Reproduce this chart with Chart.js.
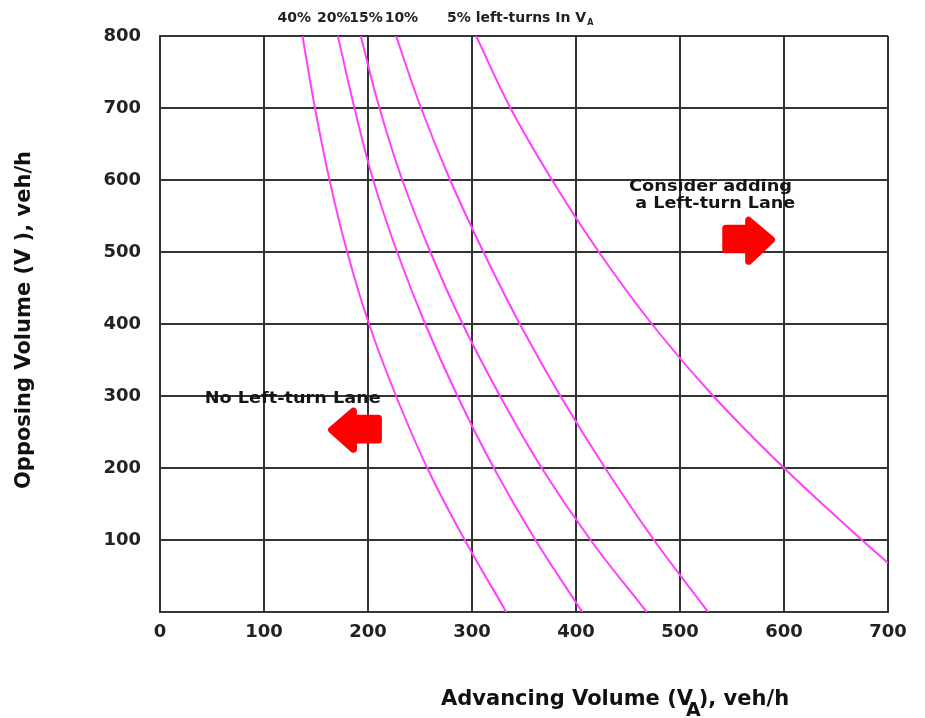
<!DOCTYPE html>
<html><head><meta charset="utf-8">
<script src="https://cdn.jsdelivr.net/npm/chart.js@4.4.0/dist/chart.umd.min.js"></script>
<style>html,body{margin:0;padding:0;background:#fff}#wrap{width:925px;height:718px;position:relative}</style>
</head><body><div id="wrap"><canvas id="c" width="925" height="718"></canvas></div>
<script>
// ---- data ----
const opposing = [800, 700, 600, 500, 400, 300, 200, 100, 0];
const va40 = [137, 149, 163, 180, 201, 227, 257, 293, 333];
const va20 = [171, 187, 205, 228, 255, 286, 321, 361, 406];
const va15 = [193, 211, 233, 260, 291, 327, 367, 414, 468];
const va10 = [227, 251, 279, 311, 346, 385, 428, 475, 527];
const opposing5 = [800, 700, 600, 500, 400, 300, 200, 100, 68];
const va5 = [304, 337, 377, 422, 473, 532, 600, 675, 700];
const seriesLabels = ['40%', '20%', '15%', '10%', '5%'];
const xTicks = [0, 100, 200, 300, 400, 500, 600, 700];
const yTicks = [100, 200, 300, 400, 500, 600, 700, 800];

function pts(xs, ys) { return xs.map((x, i) => ({ x: x, y: ys[i] })).sort((a, b) => a.x - b.x); }

const FONT = '"DejaVu Sans", sans-serif';
const LINE = '#ff40ff';

const seriesData = [pts(va40, opposing), pts(va20, opposing), pts(va15, opposing), pts(va10, opposing), pts(va5, opposing5)];

// annotation anchors in data units
const topLabelX = [113, 151, 182, 216, 276];
const topLabelY = 819;

function stretchText(ctx, text, x, y, size, width) {
  ctx.save();
  ctx.font = 'bold ' + size + 'px ' + FONT;
  const w = ctx.measureText(text).width;
  const sx = width ? width / w : 1;
  ctx.translate(x, y);
  ctx.scale(sx, 1);
  ctx.fillText(text, 0, 0);
  ctx.restore();
  return w * sx;
}

function arrowPath(ctx, pts) {
  ctx.beginPath();
  pts.forEach((p, i) => i ? ctx.lineTo(p[0], p[1]) : ctx.moveTo(p[0], p[1]));
  ctx.closePath();
}

const annot = {
  id: 'annot',
  afterDraw(chart) {
    const ctx = chart.ctx, X = chart.scales.x, Y = chart.scales.y;
    const px = v => X.getPixelForValue(v), py = v => Y.getPixelForValue(v);
    ctx.save();
    ctx.fillStyle = '#222';
    ctx.textBaseline = 'alphabetic';
    ctx.textAlign = 'left';
    // top labels
    for (let i = 0; i < 4; i++) stretchText(ctx, seriesLabels[i], px(topLabelX[i]), py(topLabelY), 14);
    let w = stretchText(ctx, seriesLabels[4] + ' left-turns In V', px(topLabelX[4]), py(topLabelY), 14);
    stretchText(ctx, 'A', px(topLabelX[4]) + w + 1, py(topLabelY) + 3, 8);

    // region notes
    ctx.fillStyle = '#151515';
    stretchText(ctx, 'No Left-turn Lane', px(43), py(290), 15, 176);
    stretchText(ctx, 'Consider adding', px(451), py(585), 15, 163);
    stretchText(ctx, 'a Left-turn Lane', px(457), py(561), 15, 160);

    // arrows
    ctx.fillStyle = '#ff0000';
    ctx.strokeStyle = '#ff0000';
    ctx.lineJoin = 'round';
    ctx.lineWidth = 7;
    arrowPath(ctx, [
      [px(165), py(253)], [px(186), py(279)], [px(186), py(269)], [px(210), py(269)],
      [px(210), py(239)], [px(186), py(239)], [px(186), py(226)]
    ]);
    ctx.fill(); ctx.stroke();
    arrowPath(ctx, [
      [px(588), py(517)], [px(566), py(544)], [px(566), py(533)], [px(544), py(533)],
      [px(544), py(503)], [px(566), py(503)], [px(566), py(487)]
    ]);
    ctx.fill(); ctx.stroke();

    // axis titles
    ctx.fillStyle = '#111';
    let x0 = 441;
    ctx.font = 'bold 21px ' + FONT;
    const p1 = 'Advancing Volume (V';
    ctx.fillText(p1, x0, 705);
    x0 += ctx.measureText(p1).width - 7;
    ctx.font = 'bold 19px ' + FONT;
    ctx.fillText('A', x0, 716);
    x0 += ctx.measureText('A').width - 2;
    ctx.font = 'bold 21px ' + FONT;
    ctx.fillText('), veh/h', x0, 705);

    ctx.translate(30, 320);
    ctx.rotate(-Math.PI / 2);
    ctx.textAlign = 'center';
    ctx.fillText('Opposing Volume (V ), veh/h', 0, 0);
    ctx.restore();
  }
};

const gridCfg = { color: '#333', lineWidth: 2, drawTicks: false };

new Chart(document.getElementById('c'), {
  type: 'scatter',
  data: {
    datasets: seriesData.map((d, i) => ({
      label: seriesLabels[i], data: d, showLine: true, borderColor: LINE, backgroundColor: LINE,
      borderWidth: 2, pointRadius: 0, tension: 0.4
    }))
  },
  options: {
    responsive: false, animation: false, devicePixelRatio: 1,
    layout: { padding: { top: 36, right: 37, left: 0, bottom: 0 } },
    plugins: { legend: { display: false }, tooltip: { enabled: false } },
    scales: {
      x: {
        type: 'linear', min: 0, max: 700,
        afterBuildTicks: s => { s.ticks = xTicks.map(v => ({ value: v })); },
        afterFit: s => { s.height = 106; },
        grid: gridCfg, border: { color: '#333', width: 2 },
        ticks: { padding: 10, color: '#222', font: { family: FONT, size: 18, weight: 'bold' } }
      },
      y: {
        type: 'linear', min: 0, max: 800,
        afterBuildTicks: s => { s.ticks = yTicks.map(v => ({ value: v })); },
        afterFit: s => { s.width = 160; },
        grid: gridCfg, border: { color: '#333', width: 2 },
        ticks: { padding: 19, color: '#222', font: { family: FONT, size: 18, weight: 'bold' } }
      }
    }
  },
  plugins: [annot]
});
</script></body></html>
